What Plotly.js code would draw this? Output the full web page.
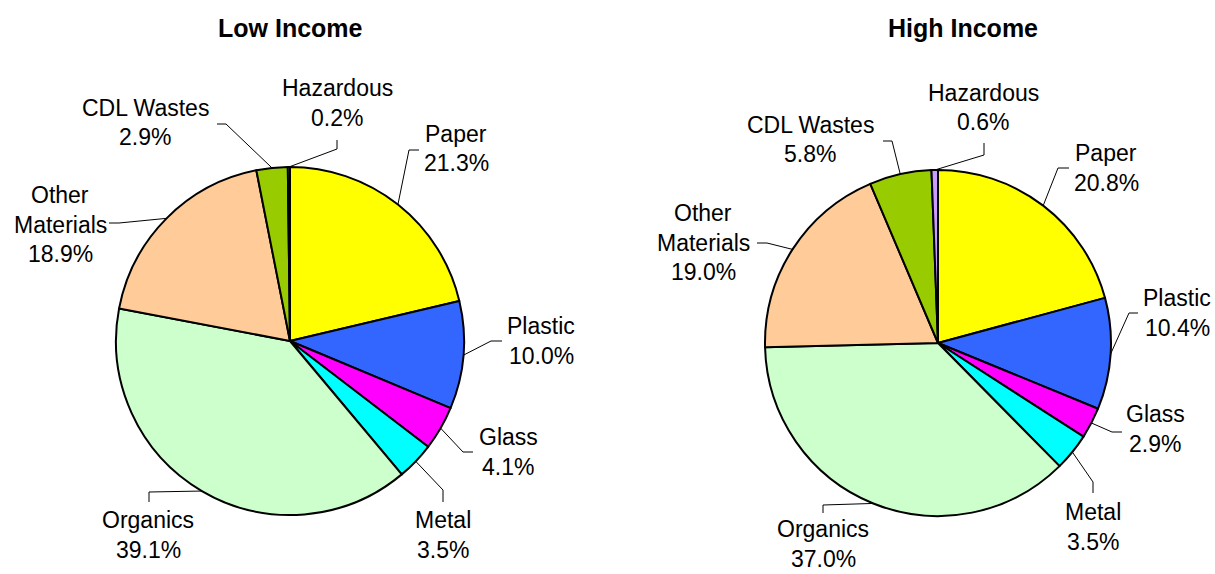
<!DOCTYPE html>
<html>
<head>
<meta charset="utf-8">
<script src="https://cdn.plot.ly/plotly-3.0.1.min.js"></script>
<style>html,body{margin:0;padding:0;background:#fff;}#chart{width:1215px;height:574px;}</style>
</head>
<body>
<div id="chart"></div>
<script>
// ---- Data ----
const categories = ["Paper", "Plastic", "Glass", "Metal", "Organics", "Other Materials", "CDL Wastes", "Hazardous"];
const labelLines = [["Paper"], ["Plastic"], ["Glass"], ["Metal"], ["Organics"], ["Other", "Materials"], ["CDL Wastes"], ["Hazardous"]];
const lowIncome = [21.3, 10.0, 4.1, 3.5, 39.1, 18.9, 2.9, 0.2];
const highIncome = [20.8, 10.4, 2.9, 3.5, 37.0, 19.0, 5.8, 0.6];
const chartTitles = ["Low Income", "High Income"];
const sliceColors = ["#FFFF00", "#3366FF", "#FF00FF", "#00FFFF", "#CCFFCC", "#FFCC99", "#99CC00", "#CC99FF"];

// ---- Layout helpers (pixel geometry) ----
const W = 1215, H = 574;
const px = x => x / W;
const py = y => 1 - y / H;
const pies = [
  {cx: 290, cy: 341, r: 174, titleX: 290, titleY: 28,
   labels: [
     {x: 456, y: 134, pts: [[419,150],[409,150]]},
     {x: 541, y: 326, pts: [[502,341],[491,341]]},
     {x: 508, y: 437, pts: [[473,452],[463,452]]},
     {x: 443, y: 520, pts: [[443,502],[443,490]]},
     {x: 148, y: 520, pts: [[149,502],[149,492]]},
     {x: 60,  y: 195, pts: [[109,223],[119,223]]},
     {x: 145, y: 108, pts: [[217,124],[226,124]]},
     {x: 337, y: 88,  pts: [[337,140],[337,149]]}
   ]},
  {cx: 938, cy: 343, r: 173, titleX: 963, titleY: 28,
   labels: [
     {x: 1106, y: 153, pts: [[1069,168],[1058,168]]},
     {x: 1177, y: 298, pts: [[1138,313],[1129,313]]},
     {x: 1155, y: 414, pts: [[1122,432],[1112,432]]},
     {x: 1093, y: 512, pts: [[1093,493],[1093,482]]},
     {x: 823,  y: 529, pts: [[823,513],[823,505]]},
     {x: 703,  y: 213, pts: [[757,243],[767,243]]},
     {x: 810,  y: 125, pts: [[883,141],[892,141]]},
     {x: 983,  y: 93,  pts: [[984,143],[984,155]]}
   ]}
];
const seriesList = [lowIncome, highIncome];
const FONT = "Liberation Sans, Arial, sans-serif";
const LINE_GAP = 29.5;

const traces = [];
const annotations = [];
const shapes = [];

seriesList.forEach((vals, i) => {
  const p = pies[i];
  traces.push({
    type: "pie",
    labels: categories,
    values: vals,
    sort: false,
    direction: "clockwise",
    rotation: 0,
    textinfo: "none",
    hoverinfo: "label+percent",
    marker: {colors: sliceColors, line: {color: "#000000", width: 2}},
    domain: {x: [px(p.cx - p.r), px(p.cx + p.r)], y: [py(p.cy + p.r), py(p.cy - p.r)]},
    showlegend: false
  });
  annotations.push({
    text: "<b>" + chartTitles[i] + "</b>", x: px(p.titleX), y: py(p.titleY),
    xref: "paper", yref: "paper", showarrow: false, xanchor: "center", yanchor: "middle",
    font: {family: FONT, size: 25, color: "#000"}
  });
  const total = vals.reduce((a, b) => a + b, 0);
  let cum = 0;
  vals.forEach((v, k) => {
    const mid = (cum + v / 2) / total * 2 * Math.PI;
    cum += v;
    const ax = p.cx + p.r * Math.sin(mid);
    const ay = p.cy - p.r * Math.cos(mid);
    const L = p.labels[k];
    const lines = labelLines[k].concat([v.toFixed(1) + "%"]);
    lines.forEach((t, j) => {
      annotations.push({
        text: t, x: px(L.x), y: py(L.y + j * LINE_GAP), xref: "paper", yref: "paper",
        showarrow: false, xanchor: "center", yanchor: "middle", borderpad: 0,
        font: {family: FONT, size: 23, color: "#000"}
      });
    });
    const pts = L.pts.concat([[ax, ay]]);
    const path = pts.map((q, j) => (j === 0 ? "M" : "L") + px(q[0]) + "," + py(q[1])).join(" ");
    shapes.push({type: "path", xref: "paper", yref: "paper", path: path,
                 line: {color: "#000000", width: 1}});
  });
});

const layout = {
  width: W, height: H,
  margin: {l: 0, r: 0, t: 0, b: 0},
  paper_bgcolor: "#ffffff",
  plot_bgcolor: "#ffffff",
  showlegend: false,
  annotations: annotations,
  shapes: shapes
};
Plotly.newPlot("chart", traces, layout, {displayModeBar: false, staticPlot: true});
</script>
</body>
</html>
